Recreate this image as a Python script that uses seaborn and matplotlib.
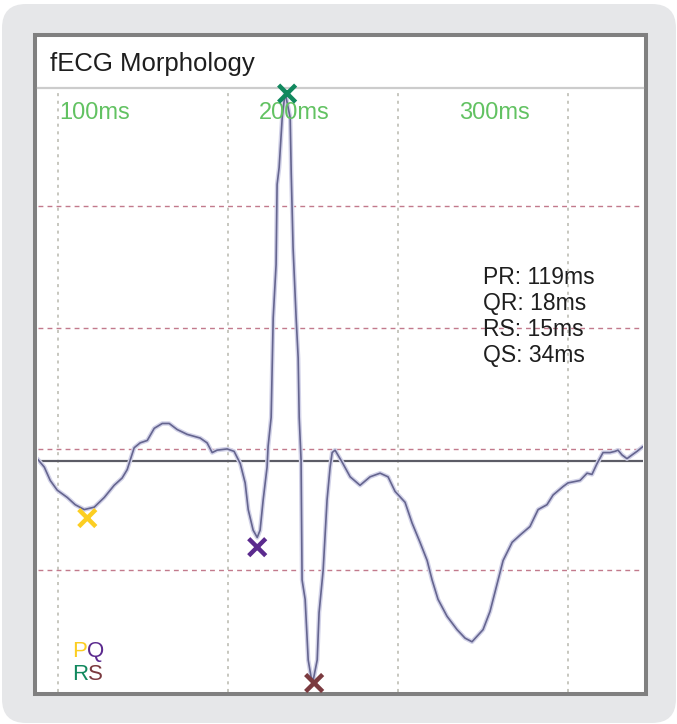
import pandas as pd
import matplotlib.pyplot as plt
import seaborn as sns
from matplotlib.patches import FancyBboxPatch, Rectangle
from matplotlib.transforms import IdentityTransform

# Traced fECG beat: time in ms, amplitude in grid divisions
time_ms = [87.6, 91.8, 95.3, 99.4, 105.3, 110.0, 115.3, 121.2, 127.1, 132.9,
           137.6, 140.6, 142.4, 144.7, 148.2, 152.4, 156.5, 161.2, 165.3, 170.0,
           175.9, 183.5, 187.6, 190.6, 193.5, 199.4, 203.5, 207.1, 210.0, 211.8,
           214.7, 217.1, 218.8, 220.6, 222.9, 223.5, 225.3, 226.5, 228.2, 228.8,
           230.0, 231.8, 233.5, 236.5, 237.1, 238.2, 240.0, 241.2, 241.8, 242.9,
           243.5, 245.3, 247.1, 248.8, 250.0, 252.4, 253.5, 255.9, 258.2, 260.0,
           261.2, 262.9, 267.1, 271.8, 277.6, 283.5, 289.4, 294.1, 298.2, 304.1,
           308.2, 312.9, 317.1, 320.0, 323.5, 328.8, 334.7, 339.4, 343.5, 350.0,
           354.1, 361.8, 367.1, 371.8, 377.6, 382.4, 387.6, 391.2, 397.1, 400.0,
           407.1, 411.2, 414.1, 417.1, 420.6, 424.7, 427.6, 429.4, 431.8, 434.7,
           437.6, 440.6, 444.1]
amplitude = [-0.08, -0.15, -0.26, -0.34, -0.40, -0.46, -0.50, -0.48, -0.40, -0.30,
             -0.24, -0.17, -0.09, 0.01, 0.05, 0.07, 0.17, 0.21, 0.21, 0.16,
             0.12, 0.09, 0.05, -0.03, -0.01, 0.00, -0.02, -0.12, -0.28, -0.50,
             -0.67, -0.73, -0.67, -0.42, -0.15, 0.02, 0.26, 1.08, 1.52, 2.18,
             2.32, 2.73, 2.94, 2.73, 2.28, 1.66, 1.08, 0.75, 0.26, -0.09,
             -1.08, -1.24, -1.74, -1.88, -1.91, -1.74, -1.35, -1.00, -0.42, -0.15,
             -0.03, -0.01, -0.11, -0.23, -0.30, -0.23, -0.20, -0.23, -0.35, -0.44,
             -0.61, -0.77, -0.92, -1.08, -1.24, -1.38, -1.49, -1.56, -1.59, -1.49,
             -1.34, -0.92, -0.77, -0.71, -0.64, -0.50, -0.46, -0.38, -0.31, -0.28,
             -0.26, -0.20, -0.21, -0.12, -0.03, -0.03, -0.02, -0.01, -0.05, -0.08,
             -0.05, -0.02, 0.02]

wave_names = ['P', 'Q', 'R', 'S']
wave_time = [117.1, 217.1, 234.7, 250.6]
wave_amp = [-0.57, -0.81, 2.93, -1.93]
wave_colors = ['#fcce22', '#5b2a8e', '#11885e', '#7b3a3f']

interval_names = ['PR', 'QR', 'RS', 'QS']
interval_ms = [119, 18, 15, 34]

grid_ms = [100, 200, 300, 400]
grid_amp = [-1, 0, 1, 2]
baseline_amp = -0.1
time_labels = ['100ms', '200ms', '300ms']

sns.set_style('white')
plt.rcParams['font.family'] = ['Liberation Sans', 'DejaVu Sans']

W, H = 677, 724
fig = plt.figure(figsize=(W / 100, H / 100), dpi=100)

# grey card and framed white panel (pixel coordinates)
fig.add_artist(FancyBboxPatch((2, 1), 674, 719, boxstyle='round,pad=0,rounding_size=24',
                              transform=IdentityTransform(), fc='#e6e7e9', ec='none', zorder=0))
fig.add_artist(Rectangle((35.3, 30.2), 610.5, 659.3, transform=IdentityTransform(),
                         fc='white', ec='#808080', lw=2.9, zorder=1))

ax = fig.add_axes([37.5 / W, (H - 691.5) / H, (643.3 - 37.5) / W, (691.5 - 88) / H])
ax.set_zorder(2)
ax.patch.set_alpha(0)

for t in grid_ms:
    ax.axvline(t, color='#b8b8ae', lw=1.1, ls=(0, (2, 3)), zorder=1)
for a in grid_amp:
    ax.axhline(a, color='#c27a8c', lw=1.0, ls=(0, (3.5, 3)), zorder=1)
ax.axhline(baseline_amp, color='#5c5c66', lw=1.6, zorder=2)

beat = pd.DataFrame({'time': time_ms, 'amp': amplitude})
sns.lineplot(data=beat, x='time', y='amp', sort=False, ax=ax, color='#d2d2e8', lw=3.2, zorder=3)
sns.lineplot(data=beat, x='time', y='amp', sort=False, ax=ax, color='#65658f', lw=1.2, zorder=4)

for i, lab in enumerate(time_labels):
    ax.text(0.036 + i * 0.33, 1 - 31 / 603.5, lab, transform=ax.transAxes,
            color='#62c262', fontsize=17, va='baseline', ha='left', zorder=6)

# wave markers (P, Q, R, S)
waves = pd.DataFrame({'time': wave_time, 'amp': wave_amp, 'wave': wave_names})
sns.scatterplot(data=waves, x='time', y='amp', hue='wave', palette=wave_colors,
                marker='x', s=150, linewidth=3.2, ax=ax, legend=False, clip_on=False, zorder=8)

ax.set_xlim(87.8, 444.3)
ax.set_ylim(-2.0, 2.976)
ax.set_xticks([])
ax.set_yticks([])
ax.set_xlabel('')
ax.set_ylabel('')
for side in ['left', 'right', 'bottom']:
    ax.spines[side].set_visible(False)
ax.spines['top'].set_color('#cccccc')
ax.spines['top'].set_linewidth(1.6)

fig.text(50 / W, 1 - 71 / H, 'fECG Morphology', fontsize=18.5, color='#1e1e1e',
         va='baseline', ha='left', zorder=5)

for i, (name, val) in enumerate(zip(interval_names, interval_ms)):
    fig.text(483 / W, 1 - (284 + 26 * i) / H, f'{name}: {val}ms', fontsize=16.5,
             color='#1e1e1e', va='baseline', ha='left', zorder=5)

# colour key for the wave markers
key_x = [72, 87, 72, 88]
key_y = [657, 657, 680, 680]
for name, c, kx, ky in zip(wave_names, wave_colors, key_x, key_y):
    fig.text(kx / W, 1 - ky / H, name, fontsize=16, color=c, va='baseline', ha='left', zorder=5)

plt.savefig('out.png', dpi=100)
plt.close()
